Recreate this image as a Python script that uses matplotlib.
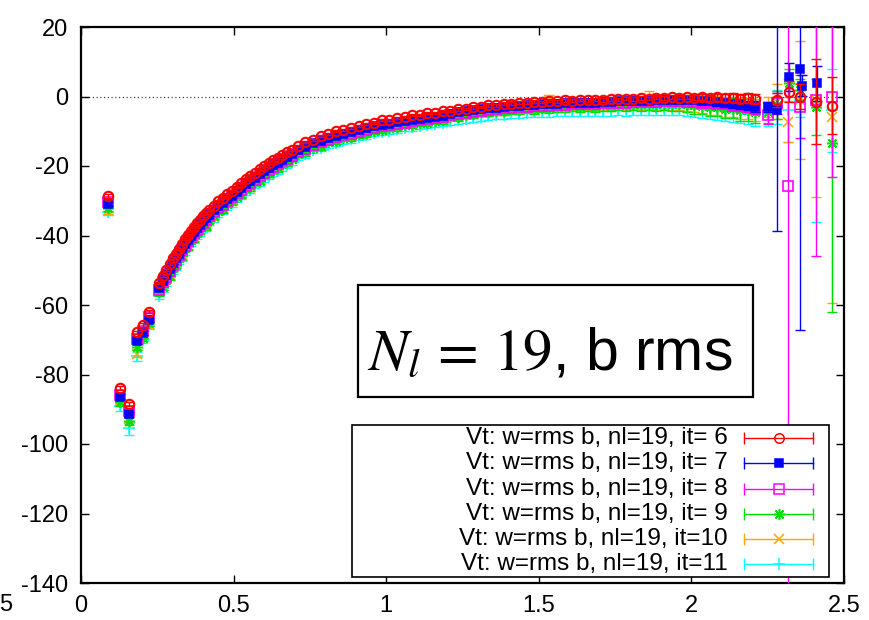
import numpy as np
import matplotlib.pyplot as plt
from matplotlib.patches import Rectangle

plt.rcParams['font.family'] = ['Liberation Sans', 'DejaVu Sans']
plt.rcParams['mathtext.fontset'] = 'stix'
plt.rcParams['axes.unicode_minus'] = False

# shared x for the small-r points and the dense band
x_small = [0.090, 0.129, 0.157, 0.182, 0.204, 0.223]
x_dense = [0.257, 0.268, 0.28, 0.29, 0.30, 0.31, 0.32, 0.33, 0.34, 0.35, 0.36, 0.37,
           0.38, 0.39, 0.40, 0.41, 0.42, 0.435, 0.45, 0.465, 0.48, 0.495, 0.51, 0.525,
           0.54, 0.555, 0.57, 0.585, 0.60, 0.615, 0.63, 0.645, 0.66, 0.675, 0.69,
           0.71, 0.735, 0.76, 0.785, 0.81, 0.835, 0.86, 0.885, 0.91, 0.935,
           0.96, 0.985, 1.01, 1.035, 1.06, 1.085, 1.11, 1.135, 1.16, 1.185,
           1.21, 1.235, 1.26, 1.285, 1.31, 1.335, 1.36, 1.385, 1.41, 1.435,
           1.46, 1.485, 1.51, 1.535, 1.56, 1.585, 1.61, 1.635, 1.66, 1.685,
           1.71, 1.735, 1.76, 1.785, 1.81, 1.835, 1.86, 1.885, 1.91, 1.935,
           1.96, 1.985, 2.01, 2.035, 2.06, 2.085, 2.11, 2.135, 2.16, 2.185, 2.21]

# error sizes in the dense band (narrow ones for it=6..8, wider for it=9..11)
err_band = [0.3, 0.3, 0.3, 0.3, 0.3, 0.3, 0.3, 0.3, 0.3, 0.3, 0.3, 0.3,
            0.3, 0.3, 0.3, 0.3, 0.3, 0.3, 0.3, 0.3, 0.3, 0.3, 0.3, 0.3,
            0.3, 0.3, 0.3, 0.3, 0.3, 0.3, 0.3, 0.3, 0.3, 0.3, 0.3,
            0.3, 0.3, 0.3, 0.3, 0.3, 0.3, 0.3, 0.3, 0.3, 0.3,
            0.3, 0.3, 0.3, 0.3, 0.3, 0.3, 0.3, 0.3, 0.3, 0.3,
            0.4, 0.4, 0.4, 0.4, 0.4, 0.4, 0.4, 0.4, 0.4, 0.4,
            0.4, 0.4, 0.4, 0.4, 0.4, 0.4, 0.4, 0.4, 0.4, 0.4,
            0.5, 0.5, 0.5, 0.5, 0.5, 0.5, 0.5, 0.5, 0.5, 0.5,
            0.5, 0.6, 0.7, 0.8, 0.9, 1.0, 1.1, 1.2, 1.3, 1.4, 1.5]
err_wide = [0.9, 1.0, 0.8, 1.1, 0.9, 1.0, 0.8, 1.2, 0.9, 1.0, 0.8, 1.1,
            0.9, 1.0, 0.8, 1.6, 0.9, 1.0, 0.8, 1.1, 0.9, 1.0, 0.8, 1.1,
            0.9, 1.4, 0.8, 1.1, 0.9, 1.0, 0.8, 1.1, 0.9, 1.0, 0.8,
            0.9, 1.0, 0.9, 1.1, 0.9, 1.0, 0.9, 1.1, 0.9, 1.0,
            0.9, 1.1, 0.9, 1.0, 0.9, 1.1, 0.9, 1.0, 1.0, 1.1,
            1.1, 1.2, 1.1, 1.2, 1.1, 1.2, 1.2, 1.3, 1.2, 1.3,
            1.3, 1.4, 1.3, 1.4, 1.4, 1.5, 1.4, 1.5, 1.5, 1.6,
            1.6, 1.7, 1.7, 1.8, 1.8, 1.9, 1.9, 2.0, 2.0, 2.1,
            2.2, 2.3, 2.4, 2.5, 2.6, 2.7, 2.8, 2.9, 3.0, 3.1, 3.2]

# it=6 (red)
y6_small = [-28.6, -84.0, -88.6, -67.9, -65.8, -61.9]
e6_small = [0.5, 0.6, 0.6, 0.5, 0.5, 0.4]
y6_dense = [-53.8, -51.6, -50.0, -48.2, -46.6, -45.2, -43.8, -42.4, -41.0, -39.8, -38.6, -37.5,
            -36.5, -35.5, -34.5, -33.5, -32.6, -31.4, -30.2, -29.2, -28.2, -27.1, -26.0, -24.9,
            -23.8, -22.9, -22.0, -21.0, -20.0, -19.2, -18.4, -17.6, -16.8, -16.0, -15.3,
            -14.3, -13.2, -12.4, -11.4, -10.9, -10.0, -9.7, -9.0, -8.6, -7.9,
            -7.5, -6.8, -6.7, -6.1, -6.0, -5.4, -5.3, -4.8, -4.7, -4.2,
            -4.2, -3.7, -3.6, -3.1, -3.0, -2.5, -2.5, -2.1, -2.1, -1.8,
            -1.8, -1.5, -1.6, -1.3, -1.4, -1.1, -1.2, -1.0, -1.1, -0.9,
            -1.0, -0.7, -0.8, -0.6, -0.7, -0.4, -0.6, -0.3, -0.4, -0.2,
            -0.3, -0.1, -0.3, -0.2, -0.4, -0.2, -0.5, -0.3, -0.6, -0.5, -0.8]
x6_tail = [2.28, 2.32, 2.357, 2.408, 2.46]
y6_tail = [-1.0, 1.4, 0.0, -1.5, -2.6]
e6_tail = [2.0, 3.0, 3.5, 12.2, 8.2]

# it=7 (blue)
y7_small = [-31.0, -86.4, -91.5, -70.5, -68.0, -64.3]
e7_small = [0.6, 0.7, 0.7, 0.6, 0.5, 0.5]
y7_dense = [-55.2, -53.0, -51.4, -49.6, -48.0, -46.6, -45.2, -43.8, -42.4, -41.2, -40.0, -38.9,
            -37.9, -36.9, -35.9, -34.9, -34.0, -32.8, -31.6, -30.6, -29.6, -28.5, -27.4, -26.3,
            -25.2, -24.3, -23.4, -22.4, -21.4, -20.6, -19.8, -19.0, -18.2, -17.4, -16.6,
            -15.5, -14.6, -13.5, -12.7, -12.0, -11.3, -10.8, -10.3, -9.7, -9.2,
            -8.6, -8.1, -7.8, -7.4, -7.1, -6.7, -6.4, -6.1, -5.8, -5.5,
            -4.9, -4.6, -4.3, -4.0, -3.7, -3.4, -3.2, -3.0, -2.8, -2.7,
            -2.5, -2.4, -2.3, -2.2, -2.1, -2.0, -1.9, -1.9, -1.8, -1.8,
            -1.6, -1.5, -1.4, -1.4, -1.3, -1.2, -1.2, -1.1, -1.0, -1.0,
            -0.9, -1.0, -1.1, -1.3, -1.4, -1.6, -1.8, -2.1, -2.3, -2.6, -2.9]
x7_tail = [2.25, 2.28, 2.32, 2.355, 2.362, 2.41]
y7_tail = [-3.1, -3.9, 5.5, 7.9, 3.1, 3.8]
e7_tail = [1.5, 34.7, 4.0, 75.0, 3.0, 5.0]

# it=8 (magenta)
y8_small = [-30.5, -86.0, -90.5, -69.8, -67.5, -63.5]
e8_small = [0.7, 0.8, 0.8, 0.7, 0.6, 0.6]
y8_dense = [-55.7, -53.5, -51.9, -50.1, -48.5, -47.1, -45.7, -44.3, -42.9, -41.7, -40.5, -39.4,
            -38.4, -37.4, -36.4, -35.4, -34.5, -33.3, -32.1, -31.1, -30.1, -29.0, -27.9, -26.8,
            -25.7, -24.8, -23.9, -22.9, -21.9, -21.1, -20.3, -19.5, -18.7, -17.9, -17.1,
            -15.9, -15.0, -13.9, -13.1, -12.4, -11.7, -11.2, -10.7, -10.1, -9.6,
            -9.0, -8.5, -8.2, -7.8, -7.5, -7.1, -6.8, -6.5, -6.2, -5.9,
            -5.3, -5.0, -4.7, -4.4, -4.1, -3.8, -3.6, -3.4, -3.2, -3.1,
            -2.9, -2.8, -2.7, -2.6, -2.5, -2.4, -2.3, -2.3, -2.2, -2.2,
            -2.0, -1.9, -1.8, -1.8, -1.7, -1.6, -1.6, -1.5, -1.4, -1.4,
            -1.3, -1.5, -1.6, -1.8, -1.9, -2.1, -2.3, -2.6, -2.8, -3.1, -3.4]
x8_tail = [2.25, 2.28, 2.318, 2.357, 2.408, 2.46]
y8_tail = [-5.3, -2.0, -25.8, -2.9, -1.0, 0.0]
e8_tail = [2.5, 3.0, 130.0, 9.0, 45.0, 23.3]

# it=9 (green)
y9_small = [-32.0, -88.0, -93.5, -72.0, -69.5, -65.2]
e9_small = [0.9, 1.0, 1.1, 0.9, 0.9, 0.8]
y9_dense = [-56.4, -54.8, -52.8, -51.7, -49.3, -48.4, -46.6, -45.9, -43.7, -43.0, -41.4, -40.8,
            -39.3, -38.4, -37.2, -36.9, -35.4, -34.3, -32.9, -32.5, -30.9, -30.0, -28.8, -28.2,
            -26.5, -25.8, -24.7, -24.2, -22.7, -22.1, -21.1, -20.7, -19.5, -18.9, -18.0,
            -16.6, -16.1, -14.7, -14.2, -13.2, -12.8, -12.0, -11.7, -10.9, -10.6,
            -9.8, -9.5, -9.0, -8.8, -8.3, -8.1, -7.6, -7.5, -7.0, -6.9,
            -5.8, -5.8, -5.2, -5.1, -4.6, -4.5, -4.1, -4.1, -3.7, -3.8,
            -3.4, -3.5, -3.2, -3.3, -3.0, -3.1, -2.8, -3.0, -2.7, -2.9,
            -2.5, -2.6, -2.2, -2.4, -2.1, -2.3, -2.0, -2.2, -1.9, -2.1,
            -1.9, -2.2, -2.5, -2.6, -3.0, -3.0, -3.5, -3.4, -4.0, -3.9, -4.5]
x9_tail = [2.25, 2.28, 2.32, 2.357, 2.408, 2.46]
y9_tail = [-4.5, -2.5, 3.8, 2.0, -3.0, -13.3]
e9_tail = [3.0, 4.0, 4.0, 3.0, 8.0, 48.6]

# it=10 (orange)
y10_small = [-33.0, -87.5, -92.8, -74.0, -68.5, -65.8]
e10_small = [0.9, 1.1, 1.1, 1.0, 0.9, 0.8]
y10_dense = [-56.0, -54.6, -52.2, -51.3, -48.9, -48.2, -46.0, -45.5, -43.4, -42.9, -40.9, -40.5,
             -38.8, -38.6, -36.6, -36.5, -34.9, -34.6, -32.4, -32.2, -30.4, -30.1, -28.2, -28.0,
             -26.0, -25.9, -24.2, -24.0, -22.2, -22.1, -20.7, -20.4, -19.0, -18.8, -17.6,
             -16.4, -15.8, -14.3, -14.0, -12.9, -12.5, -11.7, -11.4, -10.6, -10.3,
             -9.5, -9.2, -8.7, -8.4, -8.0, -7.7, -7.3, -5.8, -6.7, -6.6,
             -5.6, -5.5, -5.0, -4.9, -4.4, -4.3, -3.9, -3.9, -3.5, -3.6,
             -3.2, -3.3, -3.0, -1.0, -2.8, -2.9, -2.6, -2.8, -2.5, -2.7,
             -2.3, -2.4, -2.0, -2.2, -1.9, -2.1, -0.4, -2.0, -1.7, -1.9,
             -1.6, -1.8, -2.1, -2.2, -2.6, -2.6, -3.0, -2.9, -3.4, -3.4, -3.9]
x10_tail = [2.25, 2.28, 2.318, 2.357, 2.408, 2.46]
y10_tail = [-3.0, -1.5, -7.2, -1.0, -1.0, -5.8]
e10_tail = [3.0, 5.0, 6.0, 17.0, 28.0, 53.5]

# it=11 (cyan)
y11_small = [-33.2, -89.0, -95.5, -74.8, -70.0, -66.0]
e11_small = [1.0, 1.4, 1.8, 1.3, 1.0, 1.0]
y11_dense = [-57.4, -55.2, -53.6, -51.8, -50.2, -48.8, -47.4, -46.0, -44.6, -43.4, -42.2, -41.1,
             -40.1, -39.1, -38.1, -37.1, -36.2, -35.0, -33.8, -32.8, -31.8, -30.7, -29.6, -28.5,
             -27.4, -26.5, -25.6, -24.6, -23.6, -22.8, -22.0, -21.2, -20.4, -19.6, -18.9,
             -17.5, -16.6, -15.5, -14.7, -14.0, -13.3, -12.8, -12.3, -11.7, -11.2,
             -10.6, -10.1, -9.8, -9.4, -9.1, -8.7, -8.4, -8.1, -7.8, -7.5,
             -7.1, -6.8, -6.5, -6.2, -5.9, -5.6, -5.4, -5.2, -5.0, -4.9,
             -4.7, -4.6, -4.5, -4.4, -4.3, -4.2, -4.1, -4.1, -4.0, -4.0,
             -3.9, -3.8, -3.7, -3.7, -3.6, -3.5, -3.5, -3.4, -3.3, -3.3,
             -3.2, -3.4, -3.5, -3.7, -3.8, -4.0, -4.2, -4.4, -4.6, -4.9, -5.2]
x11_tail = [2.25, 2.28, 2.318, 2.357, 2.408, 2.46]
y11_tail = [-5.0, -3.0, -4.0, -1.0, -2.0, -4.0]
e11_tail = [3.5, 5.0, 9.0, 5.0, 34.0, 12.0]

labels = ['Vt: w=rms b, nl=19, it= 6', 'Vt: w=rms b, nl=19, it= 7',
          'Vt: w=rms b, nl=19, it= 8', 'Vt: w=rms b, nl=19, it= 9',
          'Vt: w=rms b, nl=19, it=10', 'Vt: w=rms b, nl=19, it=11']
colors = ['#ff0000', '#0000ff', '#ff00ff', '#00e000', '#ffa500', '#00ffff']
markers = ['o', 's', 's', (8, 2, 0), 'x', '+']
facecols = ['none', '#0000ff', 'none', '#00e000', '#ffa500', '#00ffff']
msizes = [6.8, 6, 6.5, 8, 7, 8]
mwidths = [1.5, 1.1, 1.2, 1.1, 1.1, 1.1]

xs = [x_small + x_dense + x6_tail, x_small + x_dense + x7_tail, x_small + x_dense + x8_tail,
      x_small + x_dense + x9_tail, x_small + x_dense + x10_tail, x_small + x_dense + x11_tail]
ys = [y6_small + y6_dense + y6_tail, y7_small + y7_dense + y7_tail, y8_small + y8_dense + y8_tail,
      y9_small + y9_dense + y9_tail, y10_small + y10_dense + y10_tail, y11_small + y11_dense + y11_tail]
es = [e6_small + err_band + e6_tail, e7_small + err_band + e7_tail, e8_small + err_band + e8_tail,
      e9_small + err_wide + e9_tail, e10_small + err_wide + e10_tail, e11_small + err_wide + e11_tail]

fig = plt.figure(figsize=(8.69, 6.20), dpi=100)
ax = fig.add_axes([81 / 869, 1 - 583 / 620, 763 / 869, 556 / 620])

ax.axhline(0, color='#444444', ls=(0, (1, 2)), lw=0.9, zorder=1)

# cyan drawn first, red last (red sits on top)
for i in reversed(range(6)):
    ax.errorbar(xs[i], ys[i], yerr=es[i], fmt='none', ecolor=colors[i],
                elinewidth=1.0, capsize=3.5, capthick=1.0, zorder=2 + (6 - i))
    ax.plot(xs[i], ys[i], ls='none', marker=markers[i], color=colors[i],
            mfc=facecols[i], ms=msizes[i], mew=mwidths[i], zorder=2 + (6 - i))

ax.set_xlim(0, 2.5)
ax.set_ylim(-140, 20)
ax.set_xticks([0, 0.5, 1, 1.5, 2, 2.5])
ax.set_xticklabels(['0', '0.5', '1', '1.5', '2', '2.5'])
ax.set_yticks(np.arange(-140, 21, 20))
ax.tick_params(direction='in', top=True, right=True, length=6, width=1.0,
               labelsize=17, pad=9)
for s in ax.spines.values():
    s.set_linewidth(1.6)

# annotation box
ax.add_patch(Rectangle((0.363, 0.3345), 0.518, 0.2015, transform=ax.transAxes,
                       fill=True, fc='white', ec='black', lw=1.6, zorder=20))
ax.text(0.375, 0.383, r'$N_l\,=\,19$, b rms', transform=ax.transAxes,
        fontsize=42.5, ha='left', va='baseline', zorder=21)

# legend drawn by hand: text right aligned, horizontal error bar sample
ax.add_patch(Rectangle((0.355, 0.0108), 0.625, 0.273, transform=ax.transAxes,
                       fc='white', ec='black', lw=1.2, zorder=20))
rows = [0.260, 0.215, 0.169, 0.124, 0.080, 0.034]
for i in range(6):
    yy = rows[i]
    ax.text(0.848, yy, labels[i], transform=ax.transAxes, ha='right', va='center',
            fontsize=17.5, zorder=21)
    ax.plot([0.869, 0.959], [yy, yy], transform=ax.transAxes, color=colors[i],
            lw=1.0, zorder=21, clip_on=False)
    ax.plot([0.869, 0.959], [yy, yy], transform=ax.transAxes, color=colors[i],
            ls='none', marker='|', ms=8, mew=1.0, zorder=21, clip_on=False)
    ax.plot([0.915], [yy], transform=ax.transAxes, color=colors[i], ls='none',
            marker=markers[i], mfc=facecols[i], ms=msizes[i], mew=1.1, zorder=22,
            clip_on=False)

# stray tick label cut from a neighbouring panel
fig.text(0.006, 1 - 605 / 620, '5', fontsize=17, ha='center', va='center')

fig.savefig('out.png', dpi=100)
